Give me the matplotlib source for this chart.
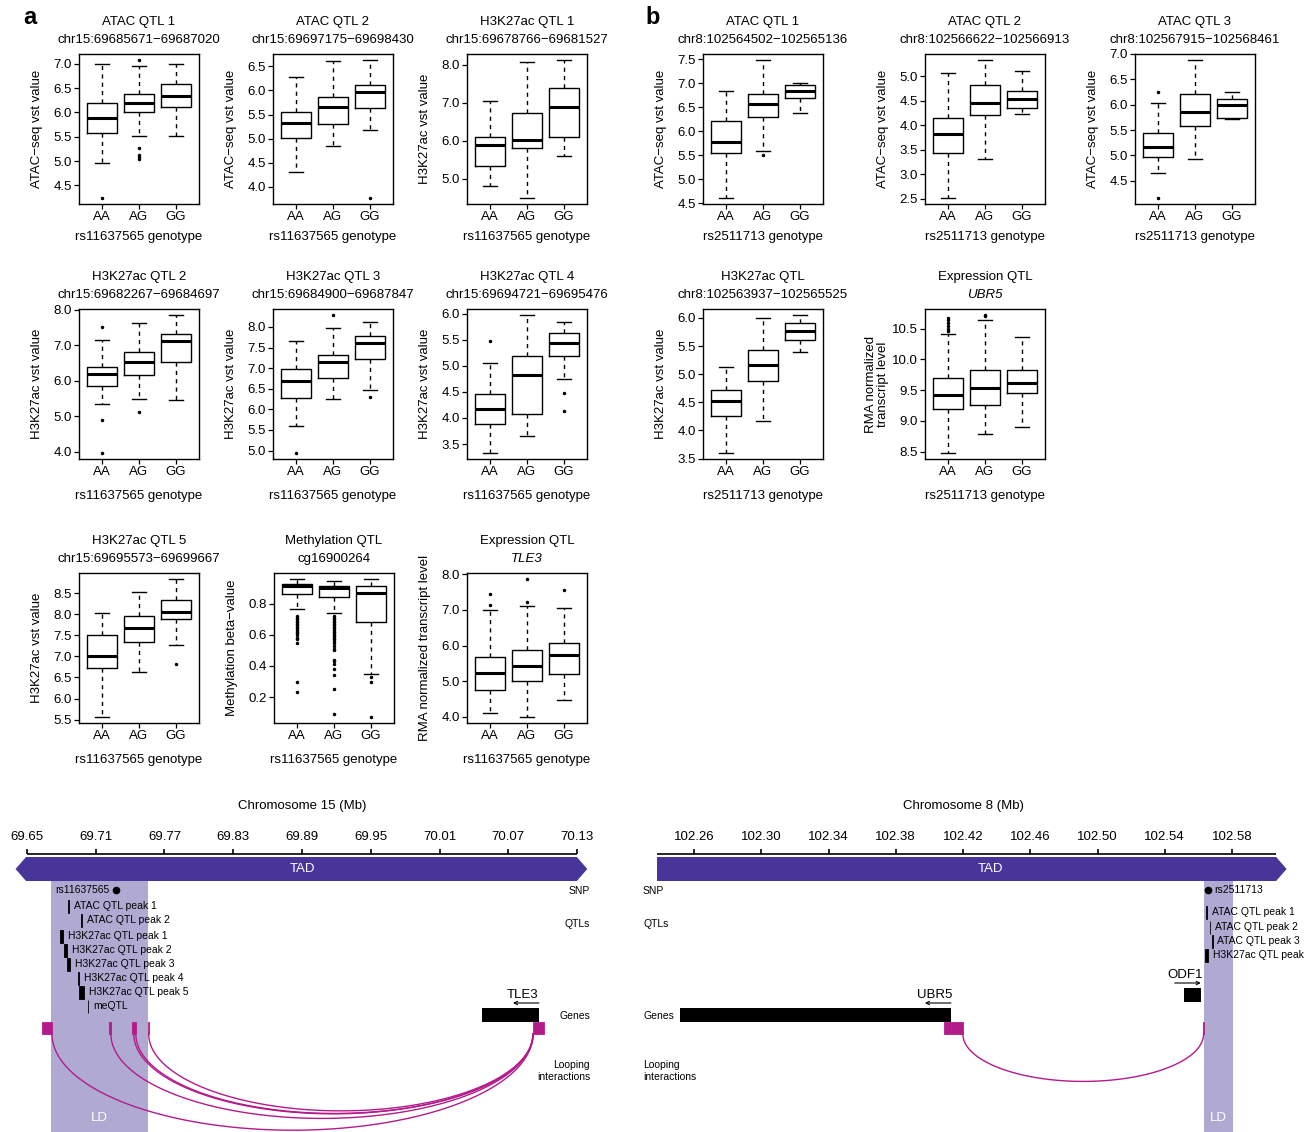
import numpy as np
import matplotlib
matplotlib.use("Agg")
import matplotlib.pyplot as plt
from matplotlib.patches import Polygon, Rectangle
import matplotlib.transforms as mtransforms

plt.rcParams['font.family'] = ['Liberation Sans', 'DejaVu Sans']

W, H = 1314, 1132
fig = plt.figure(figsize=(W / 100, H / 100), dpi=100)


def px_axes(l, t, r, b):
    return fig.add_axes([l / W, 1 - b / H, (r - l) / W, (b - t) / H])


# ---------------------------------------------------------------- data
GENOTYPES = ["AA", "AG", "GG"]

# panel a : rs11637565 (chr15)
A_ATAC1 = dict(lo=[4.97, 5.51, 5.52], q1=[5.57, 6.00, 6.12], med=[5.89, 6.19, 6.33],
               q3=[6.19, 6.39, 6.59], hi=[7.00, 6.96, 7.00],
               out=[[4.23], [7.09, 5.27, 5.12, 5.08, 5.05], []])
A_ATAC2 = dict(lo=[4.30, 4.84, 5.18], q1=[5.02, 5.30, 5.64], med=[5.33, 5.66, 5.96],
               q3=[5.56, 5.86, 6.12], hi=[6.28, 6.60, 6.64], out=[[], [], [3.76]])
A_K27_1 = dict(lo=[4.82, 4.48, 5.59], q1=[5.33, 5.81, 6.09], med=[5.89, 6.02, 6.89],
               q3=[6.10, 6.72, 7.38], hi=[7.05, 8.07, 8.13], out=[[], [], []])
A_K27_2 = dict(lo=[5.34, 5.49, 5.45], q1=[5.84, 6.17, 6.54], med=[6.18, 6.54, 7.12],
               q3=[6.40, 6.82, 7.31], hi=[7.16, 7.63, 7.87],
               out=[[7.52, 4.90, 3.95], [5.13], []])
A_K27_3 = dict(lo=[5.59, 6.26, 6.47], q1=[6.28, 6.77, 7.21], med=[6.69, 7.14, 7.62],
               q3=[6.99, 7.32, 7.78], hi=[7.66, 7.97, 8.13], out=[[4.93], [8.30], [6.29]])
A_K27_4 = dict(lo=[3.32, 3.66, 4.75], q1=[3.88, 4.08, 5.19], med=[4.18, 4.83, 5.44],
               q3=[4.46, 5.19, 5.62], hi=[5.05, 5.98, 5.84], out=[[5.47], [], [4.47, 4.13]])
A_K27_5 = dict(lo=[5.55, 6.64, 7.27], q1=[6.72, 7.34, 7.89], med=[7.00, 7.68, 8.05],
               q3=[7.52, 7.95, 8.35], hi=[8.02, 8.53, 8.85], out=[[], [], [6.82]])
A_METH = dict(lo=[0.766, 0.738, 0.349], q1=[0.858, 0.843, 0.680], med=[0.913, 0.900, 0.866],
              q3=[0.924, 0.913, 0.911], hi=[0.956, 0.946, 0.960],
              out=[[0.72, 0.71, 0.70, 0.69, 0.68, 0.67, 0.66, 0.65, 0.64, 0.63, 0.62, 0.61,
                    0.60, 0.58, 0.57, 0.55, 0.30, 0.23],
                   [0.72, 0.71, 0.70, 0.69, 0.68, 0.67, 0.66, 0.65, 0.64, 0.63, 0.62, 0.61,
                    0.60, 0.59, 0.58, 0.57, 0.56, 0.55, 0.53, 0.51, 0.50, 0.44, 0.43, 0.41,
                    0.38, 0.34, 0.25, 0.09],
                   [0.33, 0.30, 0.07]])
A_TLE3 = dict(lo=[4.10, 3.98, 4.48], q1=[4.75, 5.00, 5.21], med=[5.23, 5.42, 5.73],
              q3=[5.68, 5.86, 6.08], hi=[7.00, 7.10, 7.05],
              out=[[7.45, 7.15], [7.88, 7.22], [7.57]])

# panel b : rs2511713 (chr8)
B_ATAC1 = dict(lo=[4.60, 5.59, 6.37], q1=[5.55, 6.29, 6.68], med=[5.77, 6.56, 6.83],
               q3=[6.21, 6.78, 6.97], hi=[6.83, 7.49, 7.00], out=[[], [5.50], []])
B_ATAC2 = dict(lo=[2.51, 3.32, 4.23], q1=[3.43, 4.22, 4.35], med=[3.82, 4.45, 4.53],
               q3=[4.14, 4.82, 4.70], hi=[5.07, 5.34, 5.10], out=[[], [], []])
B_ATAC3 = dict(lo=[4.65, 4.92, 5.72], q1=[4.97, 5.57, 5.74], med=[5.17, 5.86, 5.99],
               q3=[5.44, 6.22, 6.11], hi=[6.03, 6.89, 6.25], out=[[6.25, 4.15], [], []])
B_K27 = dict(lo=[3.59, 4.17, 5.40], q1=[4.26, 4.87, 5.61], med=[4.53, 5.16, 5.76],
             q3=[4.71, 5.43, 5.91], hi=[5.12, 6.00, 6.06], out=[[], [], []])
B_UBR5 = dict(lo=[8.47, 8.78, 8.90], q1=[9.20, 9.26, 9.45], med=[9.42, 9.53, 9.62],
              q3=[9.69, 9.82, 9.83], hi=[10.41, 10.64, 10.36],
              out=[[10.46, 10.50, 10.55, 10.60, 10.64, 10.68], [10.70, 10.73], []])

# genome tracks
CHR15_TICKS = [69.65, 69.71, 69.77, 69.83, 69.89, 69.95, 70.01, 70.07, 70.13]
CHR8_TICKS = [102.26, 102.30, 102.34, 102.38, 102.42, 102.46, 102.50, 102.54, 102.58]
A_TAD = (69.640, 70.139)
B_TAD = (102.238, 102.6125)
A_LD = (69.6708, 69.7555)
B_LD = (102.5632, 102.5804)
A_SNP = ("rs11637565", 69.7277)
B_SNP = ("rs2511713", 102.5656)
A_QTL_NAMES = ["ATAC QTL peak 1", "ATAC QTL peak 2", "H3K27ac QTL peak 1", "H3K27ac QTL peak 2",
               "H3K27ac QTL peak 3", "H3K27ac QTL peak 4", "H3K27ac QTL peak 5", "meQTL"]
A_QTL_START = [69.685671, 69.697175, 69.678766, 69.682267, 69.684900, 69.694721, 69.695573, 69.7029]
A_QTL_END = [69.687020, 69.698430, 69.681527, 69.684697, 69.687847, 69.695476, 69.699667, 69.7035]
B_QTL_NAMES = ["ATAC QTL peak 1", "ATAC QTL peak 2", "ATAC QTL peak 3", "H3K27ac QTL peak"]
B_QTL_START = [102.564502, 102.566622, 102.567915, 102.563937]
B_QTL_END = [102.565136, 102.566913, 102.568461, 102.565525]
A_GENES = [("TLE3", 70.0471, 70.0968, -1)]
B_GENES = [("UBR5", 102.2517, 102.4128, -1), ("ODF1", 102.5513, 102.5614, 1)]
A_ANCHORS = [(69.6631, 69.6718), (69.7218, 69.7232), (69.7420, 69.7450),
             (69.7553, 69.7562), (70.0916, 70.1012)]
A_LOOPS = [(69.6718, 70.0916), (69.7232, 70.0916), (69.7432, 70.0916),
           (69.7450, 70.0916), (69.7562, 70.0916)]
B_ANCHORS = [(102.4086, 102.4199), (102.5628, 102.5634)]
B_LOOPS = [(102.4199, 102.5631)]

# ---------------------------------------------------------------- boxplots
FS = 9.5


def box_panel(left, top, d, title1, title2, ylabel, xlabel, yticks, italic2=False, xpad=6):
    ax = px_axes(left, top, left + 120, top + 150)
    stats = [dict(whislo=d['lo'][i], q1=d['q1'][i], med=d['med'][i], q3=d['q3'][i],
                  whishi=d['hi'][i], fliers=np.array(d['out'][i])) for i in range(3)]
    ax.bxp(stats, positions=[1, 2, 3], widths=0.8, capwidths=0.4, manage_ticks=False,
           boxprops=dict(color='black', linewidth=1.0),
           medianprops=dict(color='black', linewidth=2.2, solid_capstyle='butt'),
           whiskerprops=dict(color='black', linewidth=1.0, linestyle=(0, (3, 3))),
           capprops=dict(color='black', linewidth=1.0),
           flierprops=dict(marker='o', markersize=1.5, markerfacecolor='black',
                           markeredgecolor='black', linestyle='none'))
    vals = d['lo'] + d['hi'] + [v for o in d['out'] for v in o]
    lo, hi = min(vals), max(vals)
    rng = hi - lo
    ax.set_ylim(lo - 0.04 * rng, hi + 0.04 * rng)
    ax.set_xlim(0.38, 3.62)
    ax.set_xticks([1, 2, 3], GENOTYPES)
    ax.set_yticks(yticks, [f"{v:.1f}" for v in yticks])
    ax.tick_params(direction='out', length=3.5, width=0.9, labelsize=FS, pad=1.5)
    for s in ax.spines.values():
        s.set_linewidth(1.0)
    ax.set_xlabel(xlabel, fontsize=FS, labelpad=xpad)
    ax.set_ylabel(ylabel, fontsize=FS, linespacing=1.0)
    ax.yaxis.set_label_coords(-0.30, 0.5)
    ax.annotate(title2, xy=(0.5, 1), xycoords='axes fraction', xytext=(0, 10),
                textcoords='offset points', ha='center', va='center', fontsize=FS,
                style='italic' if italic2 else 'normal')
    ax.annotate(title1, xy=(0.5, 1), xycoords='axes fraction', xytext=(0, 23),
                textcoords='offset points', ha='center', va='center', fontsize=FS)
    return ax


GT_A = "rs11637565 genotype"
GT_B = "rs2511713 genotype"
ATAC_Y = "ATAC\u2212seq vst value"
K27_Y = "H3K27ac vst value"

box_panel(79, 54, A_ATAC1, "ATAC QTL 1", "chr15:69685671\u221269687020", ATAC_Y, GT_A,
          [4.5, 5.0, 5.5, 6.0, 6.5, 7.0])
box_panel(273, 54, A_ATAC2, "ATAC QTL 2", "chr15:69697175\u221269698430", ATAC_Y, GT_A,
          [4.0, 4.5, 5.0, 5.5, 6.0, 6.5])
box_panel(467, 54, A_K27_1, "H3K27ac QTL 1", "chr15:69678766\u221269681527", K27_Y, GT_A,
          [5.0, 6.0, 7.0, 8.0])
box_panel(79, 309, A_K27_2, "H3K27ac QTL 2", "chr15:69682267\u221269684697", K27_Y, GT_A,
          [4.0, 5.0, 6.0, 7.0, 8.0], xpad=8.5)
box_panel(273, 309, A_K27_3, "H3K27ac QTL 3", "chr15:69684900\u221269687847", K27_Y, GT_A,
          [5.0, 5.5, 6.0, 6.5, 7.0, 7.5, 8.0], xpad=8.5)
box_panel(467, 309, A_K27_4, "H3K27ac QTL 4", "chr15:69694721\u221269695476", K27_Y, GT_A,
          [3.5, 4.0, 4.5, 5.0, 5.5, 6.0], xpad=8.5)
box_panel(79, 573, A_K27_5, "H3K27ac QTL 5", "chr15:69695573\u221269699667", K27_Y, GT_A,
          [5.5, 6.0, 6.5, 7.0, 7.5, 8.0, 8.5], xpad=8.5)
box_panel(274, 573, A_METH, "Methylation QTL", "cg16900264", "Methylation beta\u2212value", GT_A,
          [0.2, 0.4, 0.6, 0.8], xpad=8.5)
box_panel(467, 573, A_TLE3, "Expression QTL", "TLE3", "RMA normalized transcript level", GT_A,
          [4.0, 5.0, 6.0, 7.0, 8.0], italic2=True, xpad=8.5)

box_panel(703, 54, B_ATAC1, "ATAC QTL 1", "chr8:102564502\u2212102565136", ATAC_Y, GT_B,
          [4.5, 5.0, 5.5, 6.0, 6.5, 7.0, 7.5])
box_panel(925, 54, B_ATAC2, "ATAC QTL 2", "chr8:102566622\u2212102566913", ATAC_Y, GT_B,
          [2.5, 3.0, 3.5, 4.0, 4.5, 5.0])
box_panel(1135, 54, B_ATAC3, "ATAC QTL 3", "chr8:102567915\u2212102568461", ATAC_Y, GT_B,
          [4.5, 5.0, 5.5, 6.0, 6.5, 7.0])
box_panel(703, 309, B_K27, "H3K27ac QTL", "chr8:102563937\u2212102565525", K27_Y, GT_B,
          [3.5, 4.0, 4.5, 5.0, 5.5, 6.0], xpad=8.5)
box_panel(925, 309, B_UBR5, "Expression QTL", "UBR5", "RMA normalized\ntranscript level", GT_B,
          [8.5, 9.0, 9.5, 10.0, 10.5], italic2=True, xpad=8.5)

fig.text(30 / W, 1 - 18 / H, "a", fontsize=17, fontweight='bold', ha='center', va='center')
fig.text(653 / W, 1 - 18 / H, "b", fontsize=17, fontweight='bold', ha='center', va='center')

# ---------------------------------------------------------------- genome tracks
TAD_COL = '#47359a'
LD_COL = '#b0aad3'
MAG = '#b31b8b'
TFS = 7.5
Y_TOP, Y_BOT = 790, 1132
Y_TITLE, Y_TLAB, Y_AXIS = 806, 837, 854
TAD_T, TAD_B = 857, 881
Y_SNP = 890
Y_GENE_T, Y_GENE_B = 1008, 1022
Y_ANC_T, Y_ANC_B = 1022, 1034


def make_track(l, r, px_ref, mb_ref):
    ax = px_axes(l, Y_TOP, r, Y_BOT)
    ppm = (px_ref[1] - px_ref[0]) / (mb_ref[1] - mb_ref[0])
    ax.set_xlim(mb_ref[0] - (px_ref[0] - l) / ppm, mb_ref[0] + (r - px_ref[0]) / ppm)
    ax.set_ylim(Y_BOT, Y_TOP)
    ax.axis('off')
    return ax, ppm


def draw_track(ax, ppm, ticks, axis_span, title, tad, left_head, tad_text_x, ld, snp, snp_side,
               qnames, qstart, qend, qrows, genes, gene_rows, anchors, loops, depth_ratio,
               side_x, side_ha):
    # axis
    ax.plot(axis_span, [Y_AXIS, Y_AXIS], color='black', lw=1.2, solid_capstyle='butt')
    ax.vlines(ticks, Y_AXIS - 5, Y_AXIS, color='black', lw=1.2)
    for t in ticks:
        ax.text(t, Y_TLAB, f"{t:.2f}", ha='center', va='center', fontsize=FS)
    ax.text((ticks[0] + ticks[-1]) / 2, Y_TITLE, title, ha='center', va='center', fontsize=FS)
    # LD
    ax.add_patch(Rectangle((ld[0], TAD_B), ld[1] - ld[0], Y_BOT - TAD_B, color=LD_COL, lw=0,
                           zorder=0))
    ax.text((ld[0] + ld[1]) / 2, 1118, "LD", color='white', ha='center', va='center', fontsize=FS)
    # TAD
    head = 10.5 / ppm
    ym = (TAD_T + TAD_B) / 2
    if left_head:
        pts = [(tad[0], ym), (tad[0] + head, TAD_T)]
    else:
        pts = [(tad[0], TAD_B), (tad[0], TAD_T)]
    pts += [(tad[1] - head, TAD_T), (tad[1], ym), (tad[1] - head, TAD_B)]
    if left_head:
        pts += [(tad[0] + head, TAD_B)]
    ax.add_patch(Polygon(pts, closed=True, color=TAD_COL, lw=0, zorder=2))
    ax.text(tad_text_x, ym, "TAD", color='white', ha='center', va='center', fontsize=FS, zorder=3)
    # SNP
    ax.plot([snp[1]], [Y_SNP], 'o', color='black', ms=4.5, zorder=4)
    off = -5 if snp_side == 'left' else 5
    ax.annotate(snp[0], xy=(snp[1], Y_SNP), xytext=(off, 0), textcoords='offset points',
                ha='right' if snp_side == 'left' else 'left', va='center', fontsize=TFS)
    # QTL peaks
    for nm, s, e, y in zip(qnames, qstart, qend, qrows):
        ax.add_patch(Rectangle((s, y - 6.5), e - s, 13, facecolor='black', edgecolor='black',
                               lw=0.6, zorder=4))
        ax.annotate(nm, xy=(e, y), xytext=(3.5, 0), textcoords='offset points', ha='left',
                    va='center', fontsize=TFS)
    # genes
    for (nm, s, e, strand), (yt, yb) in zip(genes, gene_rows):
        ax.add_patch(Rectangle((s, yt), e - s, yb - yt, color='black', lw=0, zorder=4))
        L = 26 / ppm
        ya = yt - 5
        if strand < 0:
            ax.annotate('', xy=(e - L, ya), xytext=(e, ya),
                        arrowprops=dict(arrowstyle='->', lw=0.8, color='black',
                                        shrinkA=0, shrinkB=0, mutation_scale=6))
        else:
            ax.annotate('', xy=(e, ya), xytext=(e - L, ya),
                        arrowprops=dict(arrowstyle='->', lw=0.8, color='black',
                                        shrinkA=0, shrinkB=0, mutation_scale=6))
        ax.text(e - 16 / ppm, ya - 8, nm, ha='center', va='center', fontsize=FS)
    # anchors and loops
    for s, e in anchors:
        ax.add_patch(Rectangle((s, Y_ANC_T), e - s, Y_ANC_B - Y_ANC_T, facecolor=MAG,
                               edgecolor=MAG, lw=0.6, zorder=4))
    t = np.linspace(0, np.pi, 200)
    for s, e in loops:
        cx, a = (s + e) / 2, (e - s) / 2
        depth = depth_ratio * (e - s) * ppm
        ax.plot(cx - a * np.cos(t), Y_ANC_B + depth * np.sin(t), color=MAG, lw=1.0, zorder=3)
    # side labels
    tr = mtransforms.blended_transform_factory(ax.transAxes, ax.transData)
    ax.text(side_x, 891, "SNP", transform=tr, ha=side_ha, va='center', fontsize=TFS)
    ax.text(side_x, 924, "QTLs", transform=tr, ha=side_ha, va='center', fontsize=TFS)
    ax.text(side_x, 1016, "Genes", transform=tr, ha=side_ha, va='center', fontsize=TFS)
    ax.text(side_x, 1071, "Looping\ninteractions", transform=tr, ha=side_ha, va='center',
            fontsize=TFS, multialignment=side_ha, linespacing=1.3)


axA, ppmA = make_track(0, 610, (27, 577), (CHR15_TICKS[0], CHR15_TICKS[-1]))
draw_track(axA, ppmA, CHR15_TICKS, (CHR15_TICKS[0], CHR15_TICKS[-1]), "Chromosome 15 (Mb)",
           A_TAD, True, 69.89, A_LD, A_SNP, 'left',
           A_QTL_NAMES, A_QTL_START, A_QTL_END, [906, 920, 936, 950, 964, 978, 992, 1006],
           A_GENES, [(Y_GENE_T, Y_GENE_B)], A_ANCHORS, A_LOOPS, 0.2, 590 / 610, 'right')

axB, ppmB = make_track(630, 1314, (694, 1232), (CHR8_TICKS[0], CHR8_TICKS[-1]))
draw_track(axB, ppmB, CHR8_TICKS, (102.238, 102.606), "Chromosome 8 (Mb)",
           B_TAD, False, 102.4366, B_LD, B_SNP, 'right',
           B_QTL_NAMES, B_QTL_START, B_QTL_END, [912, 927, 941, 955],
           B_GENES, [(Y_GENE_T, Y_GENE_B), (988, 1002)], B_ANCHORS, B_LOOPS, 0.197,
           13 / 684, 'left')

fig.savefig("out.png", dpi=100)
